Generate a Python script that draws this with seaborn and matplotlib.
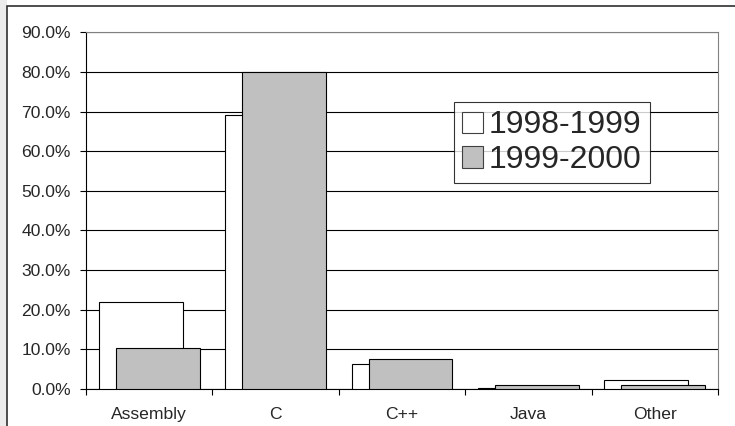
import pandas as pd
import seaborn as sns
import matplotlib.pyplot as plt
from matplotlib.patches import Rectangle
from matplotlib.ticker import PercentFormatter, FixedLocator

# data (percent of projects)
languages = ["Assembly", "C", "C++", "Java", "Other"]
share_9899 = [21.9, 69.2, 6.2, 0.3, 2.3]
share_9900 = [10.4, 80.0, 7.5, 0.9, 1.1]
periods = ["1998-1999", "1999-2000"]

df = pd.DataFrame({
    "Language": languages * 2,
    "Share": share_9899 + share_9900,
    "Period": [periods[0]] * len(languages) + [periods[1]] * len(languages),
})

sns.set_style("white")
plt.rcParams["font.family"] = ["Liberation Sans", "DejaVu Sans"]

fig = plt.figure(figsize=(7.35, 4.26), dpi=100)
ax = fig.add_axes([0.117, 0.087, 0.860, 0.837])

# overlapping bars, Excel style: narrow dodge + widened bars
sns.barplot(data=df, x="Language", y="Share", hue="Period", order=languages,
            hue_order=periods, palette={periods[0]: "white", periods[1]: "#c0c0c0"},
            saturation=1, width=0.268, gap=-3.955, edgecolor="black",
            linewidth=0.8, ax=ax, zorder=3)

ax.set_xlim(-0.5, len(languages) - 0.5)
ax.set_ylim(0, 90)
ax.set_yticks(range(0, 91, 10))
ax.yaxis.set_major_formatter(PercentFormatter(decimals=1))
ax.yaxis.grid(True, color="black", linewidth=0.8, zorder=0)
ax.set_axisbelow(True)
ax.tick_params(axis="y", direction="out", length=4, width=0.8, color="black",
               labelsize=12.6, left=True, pad=7)

# x ticks sit between categories, labels centred under them
ax.xaxis.set_major_locator(FixedLocator([i - 0.5 for i in range(len(languages) + 1)]))
ax.xaxis.set_minor_locator(FixedLocator(list(range(len(languages)))))
ax.set_xticklabels([])
ax.set_xticklabels(languages, minor=True)
ax.tick_params(axis="x", which="major", direction="out", length=4, width=0.8,
               color="black", bottom=True)
ax.tick_params(axis="x", which="minor", length=0, labelsize=12.6, pad=13)
ax.set_xlabel("")
ax.set_ylabel("")

for side in ["left", "bottom"]:
    ax.spines[side].set_color("black")
    ax.spines[side].set_linewidth(0.8)
for side in ["top", "right"]:
    ax.spines[side].set_color("#808080")
    ax.spines[side].set_linewidth(0.8)

leg = ax.legend(loc="lower left", bbox_to_anchor=(0.582, 0.577), borderaxespad=0,
                fontsize=23, frameon=True, fancybox=False, edgecolor="black",
                handlelength=0.65, handleheight=0.65, handletextpad=0.2,
                labelspacing=0.15, borderpad=0.25)
leg.get_frame().set_linewidth(0.8)
for h in leg.legend_handles:
    h.set_edgecolor("#404040")
    h.set_linewidth(0.8)

# chart frame and slide background on the left
fig.patches.append(Rectangle((0, 0), 7 / 735, 1, transform=fig.transFigure,
                             facecolor="#ececec", edgecolor="none", zorder=-2))
fig.patches.append(Rectangle((7.5 / 735, -0.1), 1.1, 1 - 6 / 426 + 0.1,
                             transform=fig.transFigure, facecolor="white",
                             edgecolor="#303030", linewidth=1.2, zorder=-1))

fig.savefig("out.png", dpi=100)
